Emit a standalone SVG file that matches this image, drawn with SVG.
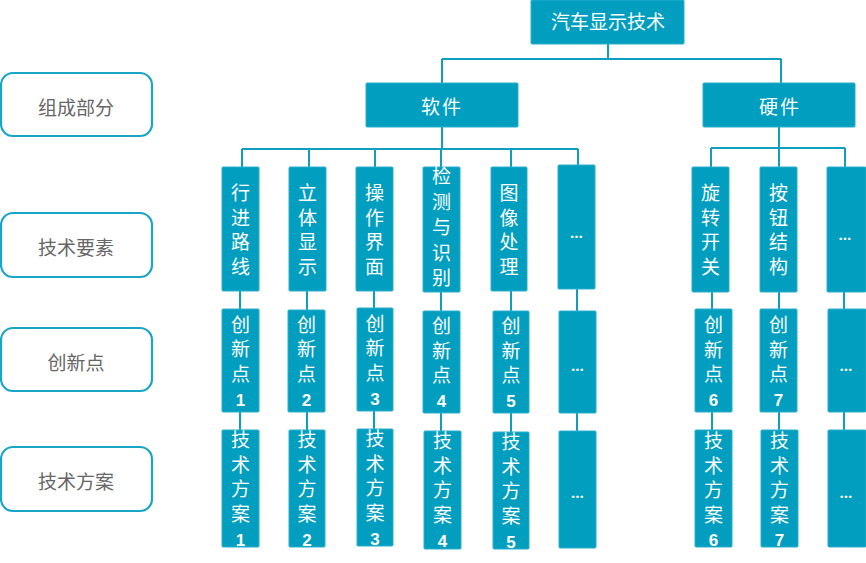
<svg xmlns="http://www.w3.org/2000/svg" width="866" height="563" viewBox="0 0 866 563">
<style>
.b{fill:#019EBF;stroke:#2AAFCB;stroke-width:1}
.l{fill:#fff;stroke:#19A6C6;stroke-width:2.2}
.c{fill:none;stroke:#0E9FBE;stroke-width:2}
.t{font-family:"Noto Sans CJK SC","Noto Sans",sans-serif;font-size:19px;fill:#fff;text-anchor:middle}
.g{font-family:"Noto Sans CJK SC","Noto Sans",sans-serif;font-size:19px;fill:#666;text-anchor:middle}
.n{font-family:"Liberation Sans",Arial,sans-serif;font-weight:bold;font-size:17px}
.e{font-family:"Open Sans","Liberation Sans",sans-serif;font-weight:bold;font-size:15px;fill:#fff;text-anchor:middle}
</style>
<g id="connectors">
<path class="c" d="M608 44V59M442 59H781M442 59V83M781 59V83"/>
<path class="c" d="M442 127V149M242 149H578M242 149V167M309 149V167M375 149V167M441 149V167M511 149V167M578 149V165"/>
<path class="c" d="M779 127V148M711 148H845M711 148V167M779 148V167M845 148V167"/>
<path class="c" d="M240 291V309M240 412V430M307 291V310M307 412V430M374 291V308M374 411V429M441 292V311M441 413V431M511 291V311M511 413V432M577 289V311M577 413V431"/>
<path class="c" d="M712 292V309M712 412V430M779 292V309M779 412V430M844 292V309M844 412V430"/>
</g>
<g id="labels">
<g id="lab1"><rect class="l" x="1" y="73" width="151" height="63" rx="12"/><text class="g" x="76" y="115">组成部分</text></g>
<g id="lab2"><rect class="l" x="1" y="213" width="151" height="64" rx="12"/><text class="g" x="76" y="255">技术要素</text></g>
<g id="lab3"><rect class="l" x="1" y="328" width="151" height="63" rx="12"/><text class="g" x="76" y="370">创新点</text></g>
<g id="lab4"><rect class="l" x="1" y="447" width="151" height="64" rx="12"/><text class="g" x="76" y="489">技术方案</text></g>
</g>
<g id="root"><rect class="b" x="531" y="0" width="153" height="44" rx="1"/><text class="t" x="608" y="29">汽车显示技术</text></g>
<g id="software"><rect class="b" x="366" y="83" width="152" height="44" rx="1"/><text class="t" x="442" y="114" letter-spacing="2">软件</text></g>
<g id="hardware"><rect class="b" x="703" y="83" width="152" height="44" rx="1"/><text class="t" x="780" y="114" letter-spacing="2">硬件</text></g>

<g id="s1"><rect class="b" x="222" y="167" width="37" height="124" rx="1"/><text class="t"><tspan x="240.5" y="200">行</tspan><tspan x="240.5" y="224.5">进</tspan><tspan x="240.5" y="249">路</tspan><tspan x="240.5" y="273.5">线</tspan></text></g>
<g id="s2"><rect class="b" x="289" y="167" width="37" height="124" rx="1"/><text class="t"><tspan x="307.5" y="200">立</tspan><tspan x="307.5" y="224.5">体</tspan><tspan x="307.5" y="249">显</tspan><tspan x="307.5" y="273.5">示</tspan></text></g>
<g id="s3"><rect class="b" x="356" y="167" width="37" height="124" rx="1"/><text class="t"><tspan x="374.5" y="200">操</tspan><tspan x="374.5" y="224.5">作</tspan><tspan x="374.5" y="249">界</tspan><tspan x="374.5" y="273.5">面</tspan></text></g>
<g id="s4"><rect class="b" x="423" y="167" width="37" height="125" rx="1"/><text class="t"><tspan x="441.5" y="183">检</tspan><tspan x="441.5" y="208.5">测</tspan><tspan x="441.5" y="234">与</tspan><tspan x="441.5" y="259.5">识</tspan><tspan x="441.5" y="285">别</tspan></text></g>
<g id="s5"><rect class="b" x="491" y="167" width="36" height="124" rx="1"/><text class="t"><tspan x="509" y="200">图</tspan><tspan x="509" y="224.5">像</tspan><tspan x="509" y="249">处</tspan><tspan x="509" y="273.5">理</tspan></text></g>
<g id="s6"><rect class="b" x="558" y="165" width="37" height="124" rx="1"/><text class="e" x="576.5" y="238">…</text></g>

<g id="h1"><rect class="b" x="692" y="167" width="37" height="125" rx="1"/><text class="t"><tspan x="710.5" y="200">旋</tspan><tspan x="710.5" y="224.5">转</tspan><tspan x="710.5" y="249">开</tspan><tspan x="710.5" y="273.5">关</tspan></text></g>
<g id="h2"><rect class="b" x="760" y="167" width="37" height="125" rx="1"/><text class="t"><tspan x="778.5" y="200">按</tspan><tspan x="778.5" y="224.5">钮</tspan><tspan x="778.5" y="249">结</tspan><tspan x="778.5" y="273.5">构</tspan></text></g>
<g id="h3"><rect class="b" x="827" y="167" width="39" height="125" rx="1"/><text class="e" x="845" y="240">…</text></g>

<g id="i1"><rect class="b" x="222" y="309" width="37" height="103" rx="1"/><text class="t"><tspan x="240.5" y="331.5">创</tspan><tspan x="240.5" y="356">新</tspan><tspan x="240.5" y="380.5">点</tspan><tspan class="n" x="240.5" y="405.5">1</tspan></text></g>
<g id="i2"><rect class="b" x="288" y="310" width="37" height="102" rx="1"/><text class="t"><tspan x="306.5" y="331.5">创</tspan><tspan x="306.5" y="356">新</tspan><tspan x="306.5" y="380.5">点</tspan><tspan class="n" x="306.5" y="405.5">2</tspan></text></g>
<g id="i3"><rect class="b" x="357" y="308" width="36" height="103" rx="1"/><text class="t"><tspan x="375" y="330.5">创</tspan><tspan x="375" y="355">新</tspan><tspan x="375" y="379.5">点</tspan><tspan class="n" x="375" y="404.5">3</tspan></text></g>
<g id="i4"><rect class="b" x="423" y="311" width="37" height="102" rx="1"/><text class="t"><tspan x="441.5" y="333">创</tspan><tspan x="441.5" y="357.5">新</tspan><tspan x="441.5" y="382">点</tspan><tspan class="n" x="441.5" y="407">4</tspan></text></g>
<g id="i5"><rect class="b" x="493" y="311" width="36" height="102" rx="1"/><text class="t"><tspan x="511" y="333">创</tspan><tspan x="511" y="357.5">新</tspan><tspan x="511" y="382">点</tspan><tspan class="n" x="511" y="407">5</tspan></text></g>
<g id="i6"><rect class="b" x="559" y="311" width="37" height="102" rx="1"/><text class="e" x="577.5" y="371">…</text></g>
<g id="i7"><rect class="b" x="695" y="309" width="37" height="103" rx="1"/><text class="t"><tspan x="713.5" y="332">创</tspan><tspan x="713.5" y="356.5">新</tspan><tspan x="713.5" y="381">点</tspan><tspan class="n" x="713.5" y="406">6</tspan></text></g>
<g id="i8"><rect class="b" x="760" y="309" width="37" height="103" rx="1"/><text class="t"><tspan x="778.5" y="332">创</tspan><tspan x="778.5" y="356.5">新</tspan><tspan x="778.5" y="381">点</tspan><tspan class="n" x="778.5" y="406">7</tspan></text></g>
<g id="i9"><rect class="b" x="828" y="309" width="38" height="103" rx="1"/><text class="e" x="846" y="371">…</text></g>

<g id="p1"><rect class="b" x="222" y="430" width="37" height="117" rx="1"/><text class="t"><tspan x="240.5" y="447">技</tspan><tspan x="240.5" y="471.5">术</tspan><tspan x="240.5" y="496">方</tspan><tspan x="240.5" y="520.5">案</tspan><tspan class="n" x="240.5" y="545.5">1</tspan></text></g>
<g id="p2"><rect class="b" x="289" y="430" width="36" height="117" rx="1"/><text class="t"><tspan x="307" y="447">技</tspan><tspan x="307" y="471.5">术</tspan><tspan x="307" y="496">方</tspan><tspan x="307" y="520.5">案</tspan><tspan class="n" x="307" y="545.5">2</tspan></text></g>
<g id="p3"><rect class="b" x="357" y="429" width="36" height="117" rx="1"/><text class="t"><tspan x="375" y="446">技</tspan><tspan x="375" y="470.5">术</tspan><tspan x="375" y="495">方</tspan><tspan x="375" y="519.5">案</tspan><tspan class="n" x="375" y="544.5">3</tspan></text></g>
<g id="p4"><rect class="b" x="424" y="431" width="37" height="118" rx="1"/><text class="t"><tspan x="442.5" y="448">技</tspan><tspan x="442.5" y="472.5">术</tspan><tspan x="442.5" y="497">方</tspan><tspan x="442.5" y="521.5">案</tspan><tspan class="n" x="442.5" y="546.5">4</tspan></text></g>
<g id="p5"><rect class="b" x="493" y="432" width="36" height="117" rx="1"/><text class="t"><tspan x="511" y="449">技</tspan><tspan x="511" y="473.5">术</tspan><tspan x="511" y="498">方</tspan><tspan x="511" y="522.5">案</tspan><tspan class="n" x="511" y="547.5">5</tspan></text></g>
<g id="p6"><rect class="b" x="559" y="431" width="37" height="117" rx="1"/><text class="e" x="577.5" y="498">…</text></g>
<g id="p7"><rect class="b" x="695" y="430" width="37" height="117" rx="1"/><text class="t"><tspan x="713.5" y="448">技</tspan><tspan x="713.5" y="472.5">术</tspan><tspan x="713.5" y="497">方</tspan><tspan x="713.5" y="521.5">案</tspan><tspan class="n" x="713.5" y="546">6</tspan></text></g>
<g id="p8"><rect class="b" x="761" y="430" width="37" height="117" rx="1"/><text class="t"><tspan x="779.5" y="448">技</tspan><tspan x="779.5" y="472.5">术</tspan><tspan x="779.5" y="497">方</tspan><tspan x="779.5" y="521.5">案</tspan><tspan class="n" x="779.5" y="546">7</tspan></text></g>
<g id="p9"><rect class="b" x="828" y="430" width="38" height="117" rx="1"/><text class="e" x="846" y="498">…</text></g>
</svg>
